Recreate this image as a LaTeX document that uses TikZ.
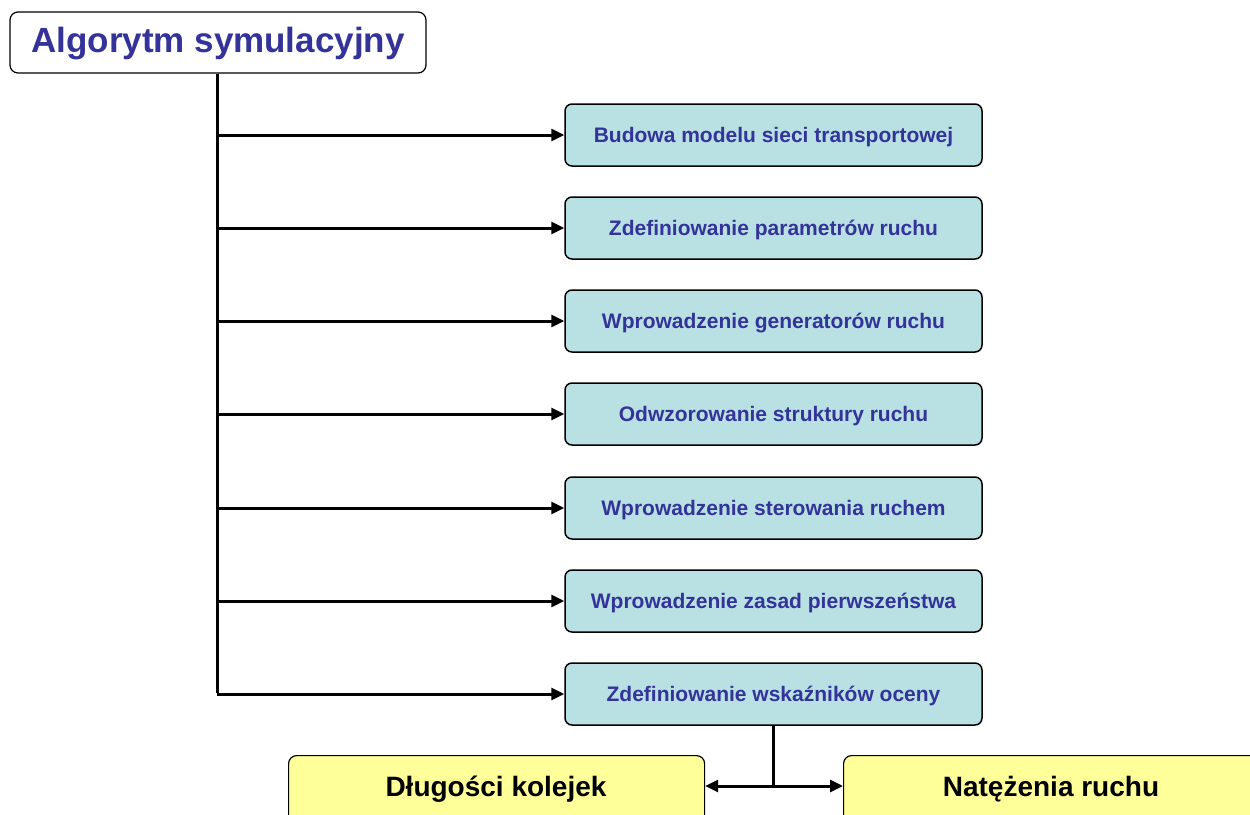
\documentclass[tikz,border=0pt]{standalone}
\usepackage{fontspec}
\setmainfont{Liberation Sans}
\usetikzlibrary{arrows.meta}
\definecolor{tblue}{HTML}{333399}
\definecolor{teal1}{HTML}{B9E0E3}
\definecolor{yel}{HTML}{FFFF99}
\begin{document}
\begin{tikzpicture}[x=1pt,y=-1pt,
  titlebox/.style={draw=black,line width=1.2pt,rounded corners=8pt,fill=white,minimum width=416pt,minimum height=61pt,inner sep=0pt,font=\fontsize{35}{40}\selectfont\bfseries,text=tblue},
  stepbox/.style={draw=black,line width=1.5pt,rounded corners=7pt,fill=teal1,minimum width=417pt,minimum height=62pt,inner sep=0pt,font=\fontsize{21}{24}\selectfont\bfseries,text=tblue},
  resbox/.style={draw=black,line width=1.2pt,rounded corners=8pt,fill=yel,minimum width=416pt,minimum height=90pt,inner sep=0pt,anchor=north west},
  restext/.style={font=\fontsize{28}{32}\selectfont\bfseries,inner sep=0pt},
  conn/.style={line width=3pt,-{Triangle[length=13pt,width=12pt]}},
  plain/.style={line width=3pt}]
\useasboundingbox (0,0) rectangle (1250,814);
\node[titlebox] (title) at (218,42.5) {};
\node[font=\fontsize{35}{40}\selectfont\bfseries,text=tblue,inner sep=0pt] (titlet) at (218,44) {Algorytm symulacyjny};
\foreach \i/\y/\t in {1/135/Budowa modelu sieci transportowej,
  2/228/Zdefiniowanie parametrów ruchu,
  3/321/Wprowadzenie generatorów ruchu,
  4/414/Odwzorowanie struktury ruchu,
  5/508/Wprowadzenie sterowania ruchem,
  6/601/Wprowadzenie zasad pierwszeństwa,
  7/694/Zdefiniowanie wskaźników oceny}{
  \node[stepbox] (s\i) at (773.5,\y) {};
  \node[font=\fontsize{21}{24}\selectfont\bfseries,text=tblue,inner sep=0pt] (t\i) at (773.5,\y+2) {\t};
  \coordinate (b\i) at (217,\y);
  \draw[conn] (b\i) -- (s\i.west);
}
\coordinate (top) at (217,73.6);
\draw[plain] (top) -- ([yshift=1.5pt]b7);
\clip (0,0) rectangle (1250,814);
\node[resbox] (r1) at (288,755) {};
\node[restext] (r1t) at (496,789) {Długości kolejek};
\node[resbox] (r2) at (843,755) {};
\node[restext] (r2t) at (1051,789) {Natężenia ruchu};
\coordinate (j) at (773,786);
\draw[plain] (s7.south -| j) -- (j);
\draw[conn] (j) -- (r1.east |- j);
\draw[conn] (j) -- (r2.west |- j);
\end{tikzpicture}
\end{document}
